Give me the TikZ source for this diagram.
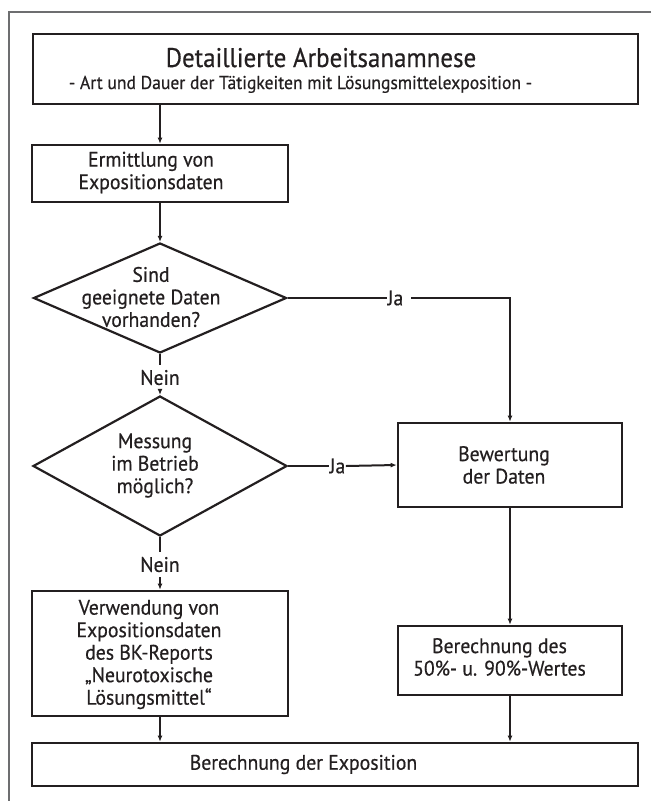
\documentclass[tikz,border=0pt]{standalone}
\usepackage{fontspec}
\setmainfont[FakeStretch=0.94,FakeBold=0.5]{PT Sans}
\newfontfamily\bodyfont[FakeStretch=0.94,FakeBold=0.5]{PT Sans}
\newfontfamily\titlefont[FakeStretch=0.925,FakeBold=0.5]{PT Sans}
\newfontfamily\subfont[FakeStretch=0.946,FakeBold=0.5]{PT Sans}
\usetikzlibrary{shapes.geometric,arrows.meta}
\definecolor{ink}{HTML}{231F20}
\definecolor{framegray}{HTML}{6D6E70}
\begin{document}
\begin{tikzpicture}[x=1pt,y=-1pt,
  boxwh/.style 2 args={rectangle,draw=ink,line width=2.6pt,minimum width=#1pt,minimum height=#2pt,inner sep=0pt},
  diawh/.style 2 args={diamond,draw=ink,line width=2.2pt,minimum width=#1pt,minimum height=#2pt,inner sep=0pt},
  txt/.style={text=ink,align=center,inner sep=0pt,font=\bodyfont\fontsize{21}{22.5}\selectfont},
  lbl/.style={text=ink,inner sep=0pt,font=\bodyfont\fontsize{21}{22.5}\selectfont},
  conn/.style={draw=ink,line width=2pt},
  arr/.style={conn,-{Latex[length=6pt,width=5pt]}},
  framel/.style={draw=framegray,line width=1.6pt}
]
\useasboundingbox (0,0) rectangle (651,801);
% frame
\coordinate (fa) at (651,12);
\coordinate (fb) at (9,12);
\coordinate (fc) at (9,801);
\draw[framel] (fa) -- (fb) -- (fc);

% boxes
\node[boxwh={605}{70}] (top) at (335.5,69) {};
\node[text=ink,anchor=base,inner sep=0pt,font=\titlefont\fontsize{27}{30}\selectfont] (toptitle) at (321,67) {Detaillierte Arbeitsanamnese};
\node[text=ink,anchor=base,inner sep=0pt,font=\subfont\fontsize{18.6}{20}\selectfont] (topsub) at (300.5,89) {- Art und Dauer der Tätigkeiten mit Lösungsmittelexposition -};

\node[boxwh={256}{57}] (erm) at (160,173.5) {};
\node[txt] (ermt) at (151,172.5) {Ermittlung von\\Expositionsdaten};

\node[diawh={253}{110}] (d1) at (160,298) {};
\node[txt] (d1t) at (151,297) {Sind\\geeignete Daten\\vorhanden?};

\node[diawh={254}{140}] (d2) at (160,466) {};
\node[txt] (d2t) at (155,465.5) {Messung\\im Betrieb\\möglich?};

\node[boxwh={224}{84}] (bew) at (510,465) {};
\node[txt] (bewt) at (504,465) {Bewertung\\der Daten};

\node[boxwh={224}{69}] (ber) at (510,660.5) {};
\node[txt] (bert) at (499.5,657) {Berechnung des\\50\%- u. 90\%-Wertes};

\node[boxwh={256}{125}] (verw) at (160,653.5) {};
\node[txt] (verwt) at (149,654.5) {Verwendung von\\Expositionsdaten\\des BK-Reports\\„Neurotoxische\\Lösungsmittel“};

\node[boxwh={606}{43}] (bot) at (335,764.5) {};
\node[txt] (bott) at (303.5,764.5) {Berechnung der Exposition};

% labels
\node[lbl,inner ysep=5pt] (nein1) at (160,377.5) {Nein};
\node[lbl,inner ysep=5pt] (nein2) at (160,564.5) {Nein};
\node[lbl] (ja1) at (395.5,298) {Ja};
\node[lbl,inner xsep=0.5pt] (ja2) at (337.5,466) {Ja};

% connectors
\draw[arr] (erm.north |- top.south) -- (erm.north);
\draw[arr] (erm.south) -- (d1.north);
\draw[conn] (d1.south) -- (nein1.north);
\draw[arr] (nein1.south) -- (d2.north);
\draw[conn] (d1.east) -- ([xshift=-1pt]ja1.west);
\draw[arr] ([xshift=8pt]ja1.east) -| (bew.north);
\draw[conn] (d2.east) -- (ja2.west);
\draw[arr] (ja2.east) -- (bew.west);
\draw[conn] (d2.south) -- (nein2.north);
\draw[arr] (nein2.south) -- (verw.north);
\draw[arr] (bew.south) -- (ber.north);
\draw[arr] (verw.south) -- (verw.south |- bot.north);
\draw[arr] (ber.south) -- (ber.south |- bot.north);
\end{tikzpicture}
\end{document}
